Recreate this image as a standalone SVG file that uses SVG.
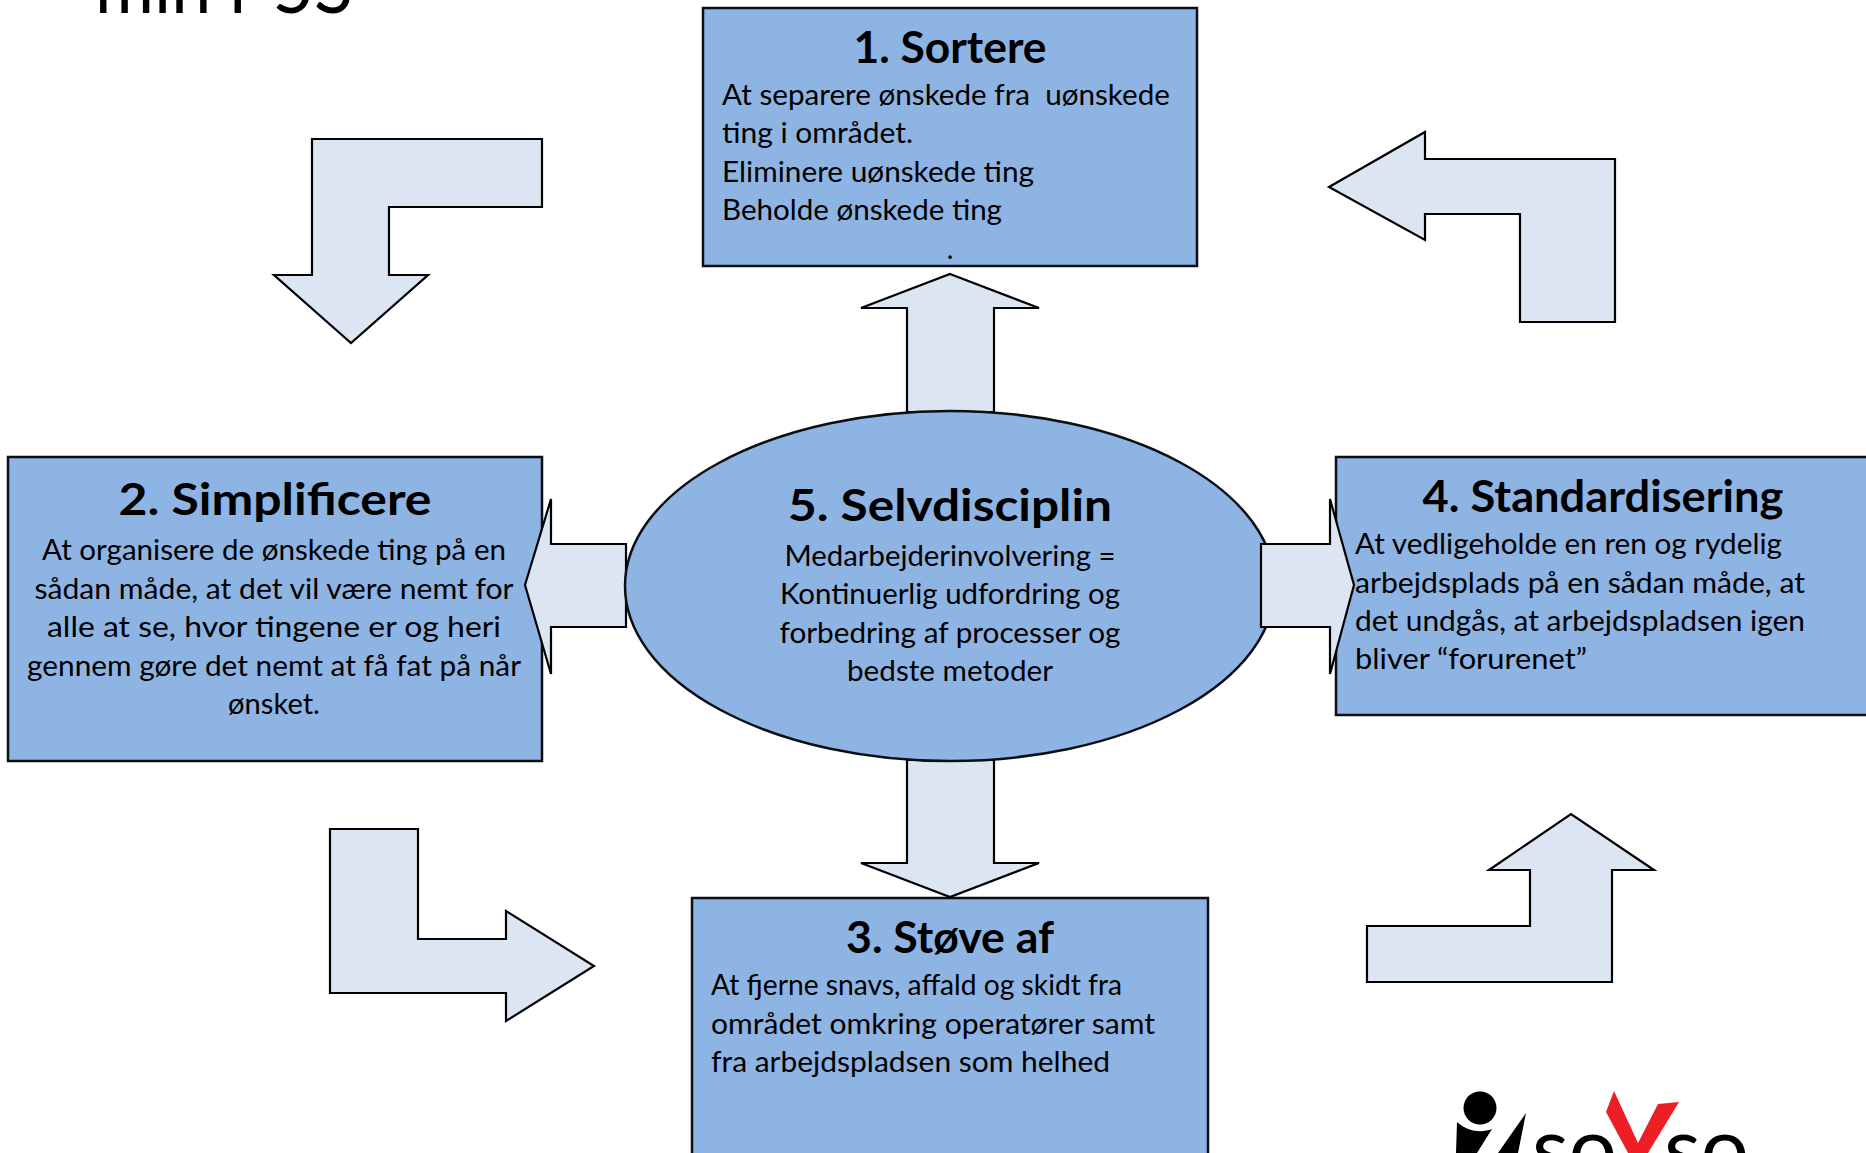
<svg xmlns="http://www.w3.org/2000/svg" width="1866" height="1153" viewBox="0 0 1866 1153">
<style>
.box{fill:#8eb4e3;stroke:#0b0f14;stroke-width:2.5}
.arr{fill:#dce6f2;stroke:#000;stroke-width:2.2;stroke-linejoin:miter}
text{font-family:Lato,"Carlito","Open Sans",sans-serif;fill:#000}
.h{font-size:44px;font-weight:700;text-anchor:middle}
.b{font-size:28px}
.c{text-anchor:middle}
.l{font-size:85px;font-weight:400}
</style>
<rect width="1866" height="1153" fill="#fff"/>
<text x="95" y="13" textLength="258" lengthAdjust="spacingAndGlyphs" style="font-size:76px">min r 5S</text>
<g id="connectors">
<polygon class="arr" points="312,139 542,139 542,207 389,207 389,275 428,275 351,343 274,275 312,275"/>
<polygon class="arr" points="1329,187 1425,132 1425,159 1615,159 1615,322 1520,322 1520,214 1425,214 1425,240"/>
<polygon class="arr" points="330,829 418,829 418,939 506,939 506,911 594,966 506,1021 506,993 330,993"/>
<polygon class="arr" points="1367,926 1530,926 1530,870 1489,870 1571,814 1654,870 1612,870 1612,982 1367,982"/>
</g>
<g id="node-1"><rect class="box" x="703" y="8" width="494" height="258"/>
<text class="h" x="950" y="63" textLength="193" lengthAdjust="spacingAndGlyphs">1. Sortere</text>
<text class="b" x="722" y="105" textLength="448" lengthAdjust="spacingAndGlyphs" xml:space="preserve">At separere ønskede fra  uønskede</text>
<text class="b" x="722" y="143" textLength="191" lengthAdjust="spacingAndGlyphs">ting i området.</text>
<text class="b" x="722" y="182" textLength="312" lengthAdjust="spacingAndGlyphs">Eliminere uønskede ting</text>
<text class="b" x="722" y="220" textLength="280" lengthAdjust="spacingAndGlyphs">Beholde ønskede ting</text>
<text class="b c" x="950" y="259">.</text></g>
<g id="node-2"><rect class="box" x="8" y="457" width="534" height="304"/>
<text class="h" x="275" y="515" textLength="313" lengthAdjust="spacingAndGlyphs">2. Simplificere</text>
<text class="b c" x="274" y="560" textLength="464" lengthAdjust="spacingAndGlyphs">At organisere de ønskede ting på en</text>
<text class="b c" x="274" y="599" textLength="479" lengthAdjust="spacingAndGlyphs">sådan måde, at det vil være nemt for</text>
<text class="b c" x="274" y="637" textLength="454" lengthAdjust="spacingAndGlyphs">alle at se, hvor tingene er og heri</text>
<text class="b c" x="274" y="676" textLength="494" lengthAdjust="spacingAndGlyphs">gennem gøre det nemt at få fat på når</text>
<text class="b c" x="274" y="714" textLength="92" lengthAdjust="spacingAndGlyphs">ønsket.</text></g>
<g id="node-4"><rect class="box" x="1336" y="457" width="540" height="258"/>
<text class="h" x="1603" y="512" textLength="361" lengthAdjust="spacingAndGlyphs">4. Standardisering</text>
<text class="b" x="1355" y="554" textLength="427" lengthAdjust="spacingAndGlyphs">At vedligeholde en ren og rydelig</text>
<text class="b" x="1355" y="593" textLength="450" lengthAdjust="spacingAndGlyphs">arbejdsplads på en sådan måde, at</text>
<text class="b" x="1355" y="631" textLength="450" lengthAdjust="spacingAndGlyphs">det undgås, at arbejdspladsen igen</text>
<text class="b" x="1355" y="669" textLength="232" lengthAdjust="spacingAndGlyphs">bliver “forurenet”</text></g>
<g id="node-3"><rect class="box" x="692" y="898" width="516" height="265"/>
<text class="h" x="950" y="953" textLength="208" lengthAdjust="spacingAndGlyphs">3. Støve af</text>
<text class="b" x="711" y="995" textLength="411" lengthAdjust="spacingAndGlyphs">At fjerne snavs, affald og skidt fra</text>
<text class="b" x="711" y="1034" textLength="444" lengthAdjust="spacingAndGlyphs">området omkring operatører samt</text>
<text class="b" x="711" y="1072" textLength="399" lengthAdjust="spacingAndGlyphs">fra arbejdspladsen som helhed</text></g>
<g id="connectors-center">
<polygon class="arr" points="950,274 1039,308 994,308 994,412 907,412 907,308 861,308"/>
<polygon class="arr" points="907,760 994,760 994,863 1039,863 950,897 861,863 907,863"/>
<polygon class="arr" points="525,585 551,499 551,544 626,544 626,627 551,627 551,674"/>
</g>
<g id="node-5"><ellipse class="box" cx="950" cy="586" rx="325" ry="175"/>
<text class="h" x="950" y="521" textLength="324" lengthAdjust="spacingAndGlyphs">5. Selvdisciplin</text>
<text class="b c" x="950" y="566" textLength="331" lengthAdjust="spacingAndGlyphs">Medarbejderinvolvering =</text>
<text class="b c" x="950" y="604" textLength="340" lengthAdjust="spacingAndGlyphs">Kontinuerlig udfordring og</text>
<text class="b c" x="950" y="643" textLength="341" lengthAdjust="spacingAndGlyphs">forbedring af processer og</text>
<text class="b c" x="950" y="681" textLength="206" lengthAdjust="spacingAndGlyphs">bedste metoder</text></g>
<g id="connector-right">
<polygon class="arr" points="1261,544 1330,544 1330,499 1354,585 1330,674 1330,627 1261,627"/>
</g>
<g id="logo">
<circle cx="1480" cy="1108" r="16.5" fill="#000"/>
<path d="M1457 1122C1468 1132 1482 1133 1492 1129L1477 1153H1456Z" fill="#000"/>
<path d="M1526 1113L1498 1153H1518Z" fill="#000"/>
<text class="l" x="1532" y="1178">so</text>
<text class="l" x="1664" y="1178">so</text>
<polygon points="1614,1091 1606,1112 1628,1153 1648,1153 1679,1102 1658,1104 1638,1143" fill="#ed1f24"/>
</g>
</svg>
